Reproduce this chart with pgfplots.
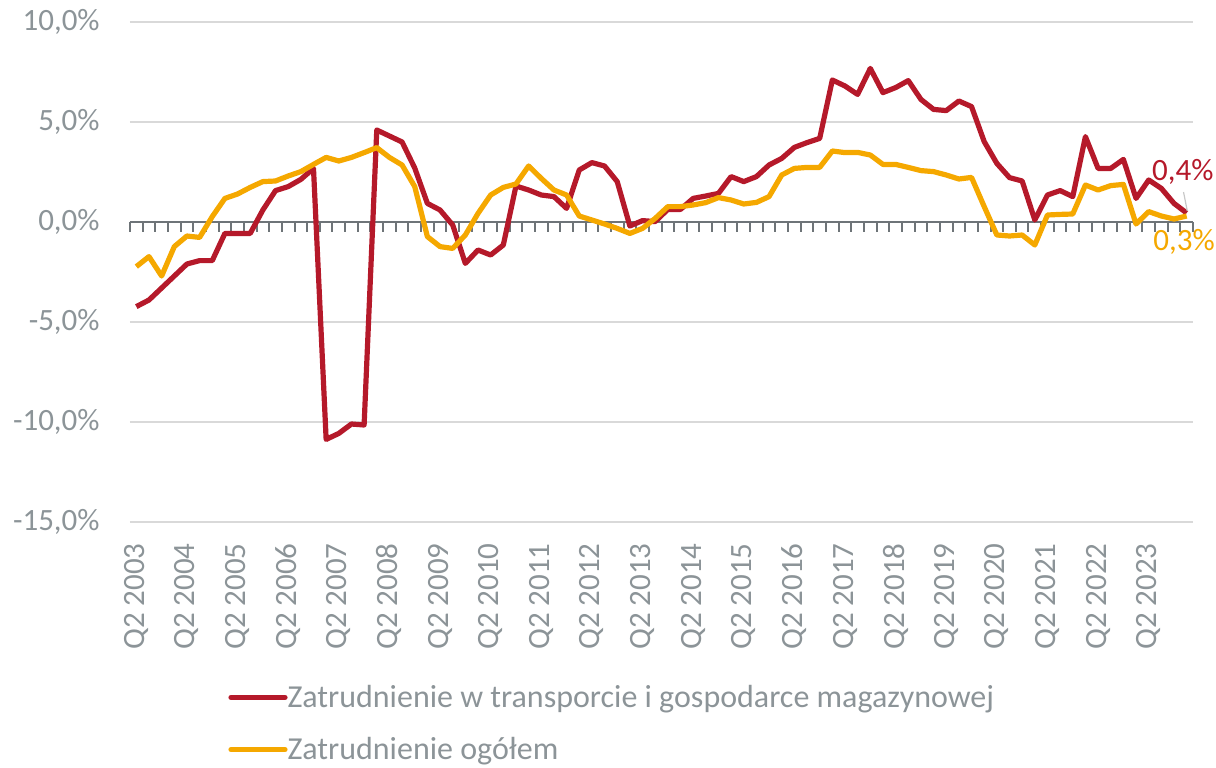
\documentclass[border=0pt]{standalone}
\usepackage{fontspec}
\setmainfont{Carlito}
\usepackage{pgfplots}
\usepackage{pgfplotstable}
\pgfplotsset{compat=1.18}
\definecolor{redline}{HTML}{B5192A}
\definecolor{yelline}{HTML}{F5A800}
\definecolor{txt}{HTML}{8C9498}
\definecolor{gridc}{HTML}{D9D9D9}
\definecolor{axc}{HTML}{6E7478}

\pgfplotstableread{
i red tot
0 -4.23 -2.23
1 -3.90 -1.73
2 -3.30 -2.70
3 -2.70 -1.23
4 -2.10 -0.70
5 -1.93 -0.77
6 -1.93 0.27
7 -0.57 1.18
8 -0.57 1.40
9 -0.57 1.73
10 0.60 2.02
11 1.57 2.05
12 1.77 2.30
13 2.13 2.52
14 2.68 2.88
15 -10.87 3.23
16 -10.57 3.05
17 -10.10 3.23
18 -10.15 3.47
19 4.60 3.72
20 4.30 3.23
21 4.00 2.85
22 2.70 1.77
23 0.93 -0.73
24 0.60 -1.23
25 -0.15 -1.32
26 -2.07 -0.65
27 -1.40 0.43
28 -1.65 1.35
29 -1.15 1.73
30 1.80 1.90
31 1.60 2.80
32 1.35 2.18
33 1.27 1.60
34 0.68 1.35
35 2.60 0.30
36 2.97 0.10
37 2.80 -0.10
38 2.02 -0.32
39 -0.20 -0.57
40 0.07 -0.32
41 0.02 0.18
42 0.63 0.77
43 0.63 0.77
44 1.18 0.85
45 1.30 0.97
46 1.43 1.22
47 2.27 1.10
48 2.02 0.90
49 2.27 0.98
50 2.85 1.27
51 3.18 2.35
52 3.73 2.68
53 3.97 2.73
54 4.18 2.73
55 7.10 3.55
56 6.80 3.47
57 6.38 3.48
58 7.68 3.35
59 6.47 2.88
60 6.72 2.88
61 7.07 2.73
62 6.13 2.57
63 5.63 2.52
64 5.57 2.35
65 6.05 2.15
66 5.77 2.23
67 4.02 0.77
68 2.93 -0.65
69 2.22 -0.70
70 2.05 -0.65
71 0.10 -1.15
72 1.35 0.35
73 1.57 0.38
74 1.27 0.40
75 4.27 1.85
76 2.68 1.60
77 2.68 1.82
78 3.13 1.88
79 1.18 -0.10
80 2.10 0.52
81 1.68 0.30
82 0.93 0.15
83 0.45 0.30
}\datatable

\begin{document}
\begin{tikzpicture}
% zero line with category tick marks
\begin{axis}[
  scale only axis, width=531.5pt, height=250pt,
  xmin=-0.5, xmax=83.5, ymin=-15, ymax=10,
  axis x line*=middle, axis y line=none,
  xtick={-0.5,0.5,...,83.5}, xticklabels={},
  ytick=\empty,
  x axis line style={axc, line width=1pt},
  xtick align=outside,
  major tick length=5pt,
  tick style={axc, line width=1pt},
]
\end{axis}
% main axis
\begin{axis}[
  scale only axis, width=531.5pt, height=250pt,
  xmin=-0.5, xmax=83.5, ymin=-15, ymax=10,
  clip=false,
  axis line style={draw=none},
  xtick={0,4,...,80},
  xticklabels={Q2 2003,Q2 2004,Q2 2005,Q2 2006,Q2 2007,Q2 2008,Q2 2009,Q2 2010,Q2 2011,Q2 2012,Q2 2013,Q2 2014,Q2 2015,Q2 2016,Q2 2017,Q2 2018,Q2 2019,Q2 2020,Q2 2021,Q2 2022,Q2 2023},
  ytick={-15,-10,-5,5,10},
  extra y ticks={0},
  extra y tick style={grid=none},
  /pgf/number format/assume math mode=true,
  yticklabel={\pgfmathprintnumber[fixed, fixed zerofill, precision=1, use comma]{\tick}\%},
  ymajorgrids, grid style={gridc, line width=1pt},
  major tick length=0pt,
  tick label style={font=\fontsize{15.5}{18}\selectfont, text=txt},
  xticklabel style={rotate=90, anchor=east, inner sep=0pt},
  xticklabel shift=10.5pt,
  yticklabel style={anchor=east, inner sep=0pt},
  yticklabel shift=15pt,
  legend cell align=left,
  legend style={draw=none, fill=none, at={(0.0922,-0.403)}, anchor=west,
    font=\fontsize{16}{19}\selectfont, text=txt, row sep=13.5pt, inner sep=0pt,
    nodes={inner sep=0pt},
    /tikz/every even column/.append style={column sep=2.5pt}},
  legend image code/.code={\draw[#1, line width=2.6pt, line cap=round] (0pt,0pt) -- (27pt,0pt);},
]
\addplot[redline, line width=2.6pt, line join=round, no marks] table[x=i, y=red] {\datatable};
\addlegendentry{Zatrudnienie w transporcie i gospodarce magazynowej}
\addplot[yelline, line width=2.6pt, line join=round, no marks] table[x=i, y=tot] {\datatable};
\addlegendentry{Zatrudnienie ogółem}
\node[text=redline, font=\fontsize{15.5}{18}\selectfont] at (axis cs:82.7,2.5) {0,4\%};
\node[text=yelline, font=\fontsize{15.5}{18}\selectfont] at (axis cs:82.8,-1.0) {0,3\%};
\draw[gridc!80!gray, line width=0.6pt] (axis cs:82.75,1.5) -- (axis cs:83.05,0.55);
\end{axis}
\pgfresetboundingbox
\useasboundingbox (-65pt,-122.5pt) rectangle (543pt,261pt);
\end{tikzpicture}
\end{document}
